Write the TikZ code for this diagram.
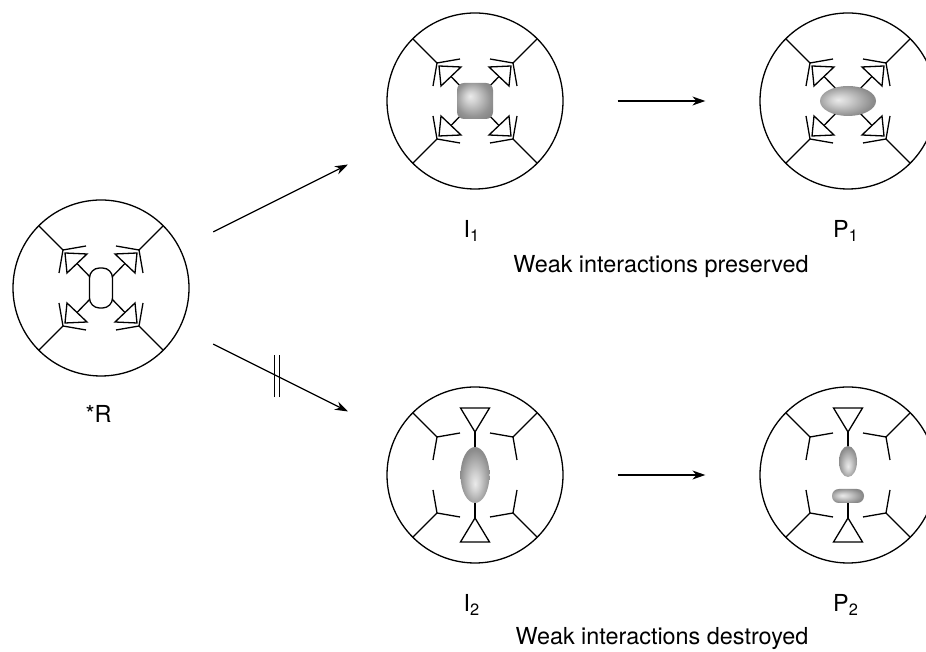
\documentclass[tikz,border=0pt]{standalone}
\usepackage{fontspec}
\setmainfont{TeX Gyre Heros}
\usetikzlibrary{arrows.meta,calc}

% grey blobs, light spot moved off centre
\pgfdeclareradialshading{blobnw}{\pgfpoint{-7bp}{7bp}}{color(0bp)=(black!8); color(8bp)=(black!18); color(24bp)=(black!42); color(40bp)=(black!55)}
\pgfdeclareradialshading{blobw}{\pgfpoint{-9bp}{2bp}}{color(0bp)=(black!8); color(8bp)=(black!18); color(26bp)=(black!45); color(45bp)=(black!55)}
\pgfdeclareradialshading{blobs}{\pgfpoint{0bp}{-8bp}}{color(0bp)=(black!8); color(8bp)=(black!18); color(26bp)=(black!45); color(45bp)=(black!55)}

\begin{document}
\begin{tikzpicture}[x=0.5pt,y=0.5pt,line width=0.65pt,
    cell/.style={circle,draw,minimum size=88pt,inner sep=0pt},
    lbl/.style={anchor=base,font=\fontsize{11.7}{14}\selectfont},
    react/.style={-{Stealth[length=6.5pt,width=4.5pt]}}]
\useasboundingbox (0,0) rectangle (926,652);

\node[cell] (R)  at (101,364) {};
\node[cell] (I1) at (475,551) {};
\node[cell] (P1) at (848,551) {};
\node[cell] (I2) at (475,177) {};
\node[cell] (P2) at (848,177) {};

% spokes with their two arms
\foreach \c in {R,I1,P1,I2,P2}
  \foreach \sx/\sy in {1/1,-1/1,1/-1,-1/-1}
  {
    \begin{scope}[shift={(\c.center)},xscale=\sx,yscale=\sy]
      \draw (45:88) -- (38,38) -- (15,42);
      \draw (38,38) -- (42,15);
    \end{scope}
  }

% side wedges
\foreach \c in {R,I1,P1}
  \foreach \sx/\sy in {1/1,-1/1,1/-1,-1/-1}
  {
    \begin{scope}[shift={(\c.center)},xscale=\sx,yscale=\sy]
      \draw (36,35) -- (14,34) -- (34,15) -- cycle;
      \draw (24,24.5) -- (8,8);
    \end{scope}
  }

% top and bottom wedges
\foreach \c in {I2,P2}
  \foreach \sy in {1,-1}
  {
    \begin{scope}[shift={(\c.center)},yscale=\sy]
      \draw (-14.5,67) -- (14.5,67) -- (0,43) -- cycle;
      \draw (0,43) -- (0,20);
    \end{scope}
  }

% centres
\draw[fill=white,rounded corners=5pt] ($(R)+(-11.5,-20)$) rectangle ($(R)+(11.5,20)$);
\shade[shading=blobnw,rounded corners=3.5pt] ($(I1)+(-18,-18)$) rectangle ($(I1)+(18,18)$);
\shade[shading=blobw] (P1.center) ellipse [x radius=28,y radius=15];
\shade[shading=blobs] (I2.center) ellipse [x radius=14.5,y radius=28];
\shade[shading=blobs] ($(P2)+(0,13.5)$) ellipse [x radius=9,y radius=15.5];
\shade[shading=blobw,rounded corners=3.4pt] ($(P2)+(-16,-28)$) rectangle ($(P2)+(16,-14)$);

% reactions
\draw[react,shorten <=18.4pt,shorten >=26.7pt] (R) -- (I1);
\draw[react,shorten <=18.4pt,shorten >=26.7pt] (R) -- coordinate[pos=0.45] (nb) (I2);
\draw ($(nb)+(-2.5,-21)$) -- ++(0,42);
\draw ($(nb)+(2.5,-21)$) -- ++(0,42);
\draw[react,shorten <=27pt,shorten >=27pt] (I1) -- (P1);
\draw[react,shorten <=27pt,shorten >=27pt] (I2) -- (P2);

\node[lbl] (tR)  at (98.5,229) {*R};
\node[lbl] (tI1) at (472,414) {I\textsubscript{1}};
\node[lbl] (tP1) at (846,414) {P\textsubscript{1}};
\node[lbl] (tk)  at (661,379) {Weak interactions preserved};
\node[lbl] (tI2) at (472,40) {I\textsubscript{2}};
\node[lbl] (tP2) at (846,40) {P\textsubscript{2}};
\node[lbl] (td)  at (662,7) {Weak interactions destroyed};
\end{tikzpicture}
\end{document}
